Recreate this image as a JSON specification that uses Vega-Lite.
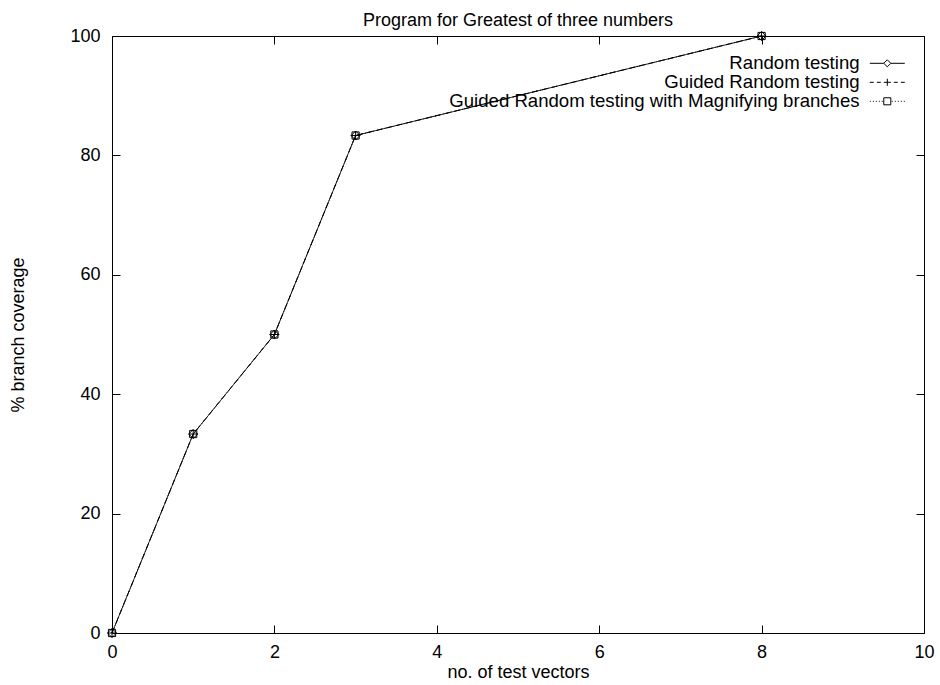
{
  "$schema": "https://vega.github.io/schema/vega-lite/v6.json",
  "width": 812,
  "height": 597,
  "autosize": {"type": "none"},
  "padding": {"left": 112, "top": 36, "right": 16, "bottom": 52},
  "background": "white",
  "title": {
    "text": "Program for Greatest of three numbers",
    "fontSize": 18,
    "fontWeight": "normal",
    "font": "Liberation Sans",
    "color": "black",
    "anchor": "middle",
    "offset": -3
  },
  "config": {
    "view": {"stroke": null},
    "font": "Liberation Sans",
    "axis": {
      "grid": false,
      "domainColor": "black",
      "domainWidth": 1,
      "tickColor": "black",
      "tickWidth": 1,
      "tickSize": -8,
      "labelColor": "black",
      "labelFontSize": 18,
      "labelFont": "Liberation Sans",
      "labelFlush": false,
      "labelOverlap": false,
      "titleColor": "black",
      "titleFontSize": 18,
      "titleFont": "Liberation Sans",
      "titleFontWeight": "normal"
    }
  },
  "data": {
    "values": [
      {"series": "Guided Random testing with Magnifying branches", "x": 0, "y": 0},
      {"series": "Guided Random testing with Magnifying branches", "x": 1, "y": 33.33},
      {"series": "Guided Random testing with Magnifying branches", "x": 2, "y": 50},
      {"series": "Guided Random testing with Magnifying branches", "x": 3, "y": 83.33},
      {"series": "Guided Random testing with Magnifying branches", "x": 8, "y": 100},
      {"series": "Guided Random testing", "x": 0, "y": 0},
      {"series": "Guided Random testing", "x": 1, "y": 33.33},
      {"series": "Guided Random testing", "x": 2, "y": 50},
      {"series": "Guided Random testing", "x": 3, "y": 83.33},
      {"series": "Guided Random testing", "x": 8, "y": 100},
      {"series": "Random testing", "x": 0, "y": 0},
      {"series": "Random testing", "x": 1, "y": 33.33},
      {"series": "Random testing", "x": 2, "y": 50},
      {"series": "Random testing", "x": 3, "y": 83.33},
      {"series": "Random testing", "x": 8, "y": 100}
    ]
  },
  "layer": [
    {
      "mark": {"type": "line", "color": "black", "strokeWidth": 1},
      "encoding": {
        "x": {
          "field": "x", "type": "quantitative",
          "scale": {"domain": [0, 10], "nice": false},
          "axis": {"orient": "bottom", "values": [0, 2, 4, 6, 8, 10], "title": "no. of test vectors", "labelPadding": 18, "titlePadding": 2}
        },
        "y": {
          "field": "y", "type": "quantitative",
          "scale": {"domain": [0, 100], "nice": false},
          "axis": {"orient": "left", "values": [0, 20, 40, 60, 80, 100], "title": "% branch coverage", "labelPadding": 20, "titlePadding": 42}
        },
        "strokeDash": {
          "field": "series", "type": "nominal",
          "scale": {"domain": ["Random testing", "Guided Random testing", "Guided Random testing with Magnifying branches"], "range": [[1, 0], [6, 4], [1, 3]]},
          "legend": null
        }
      }
    },
    {
      "mark": {"type": "point", "filled": false, "stroke": "black", "strokeWidth": 1, "size": 81, "opacity": 1},
      "encoding": {
        "x": {
          "field": "x", "type": "quantitative",
          "axis": {"orient": "top", "values": [0, 2, 4, 6, 8, 10], "labels": false, "title": null, "domain": true}
        },
        "y": {
          "field": "y", "type": "quantitative",
          "axis": {"orient": "right", "values": [0, 20, 40, 60, 80, 100], "labels": false, "title": null, "domain": true}
        },
        "shape": {
          "field": "series", "type": "nominal",
          "scale": {"domain": ["Random testing", "Guided Random testing", "Guided Random testing with Magnifying branches"], "range": ["M0,-1L1,0L0,1L-1,0Z", "M-1,0H1M0,-1V1", "M-0.8,-0.8H0.8V0.8H-0.8Z"]},
          "legend": null
        }
      }
    },
    {
      "mark": {"type": "point", "filled": false, "stroke": "black", "strokeWidth": 1, "opacity": 0},
      "encoding": {
        "x": {"field": "x", "type": "quantitative", "axis": null},
        "y": {"field": "y", "type": "quantitative", "axis": null},
        "shape": {
          "field": "series", "type": "nominal",
          "scale": {"domain": ["Random testing", "Guided Random testing", "Guided Random testing with Magnifying branches"], "range": [
            "M-2.33,0H-0.47M0.47,0H2.33M0,-0.47L0.47,0L0,0.47L-0.47,0Z",
            "M-2.33,0H-1.8M-1.4,0H-0.87M-0.47,0H0.47M0.87,0H1.4M1.8,0H2.33M0,-0.47V0.47",
            "M-2.33,0H-2.2M-1.93,0H-1.8M-1.53,0H-1.4M-1.13,0H-1M-0.73,0H-0.6M-0.47,-0.47H0.47V0.47H-0.47ZM0.6,0H0.73M1,0H1.13M1.4,0H1.53M1.8,0H1.93M2.2,0H2.33"
          ]},
          "legend": {
            "title": null,
            "orient": "none",
            "legendX": 766,
            "legendY": 18,
            "padding": 0,
            "labelFontSize": 18.6,
            "labelFont": "Liberation Sans",
            "labelColor": "black",
            "labelAlign": "right",
            "labelOffset": -37,
            "labelLimit": 0,
            "symbolSize": 225,
            "symbolStrokeColor": "black",
            "symbolStrokeWidth": 1,
            "symbolFillColor": "transparent",
            "symbolOpacity": 1,
            "rowPadding": 0,
            "encode": {"symbols": {"update": {"opacity": {"value": 1}}}}
          }
        }
      }
    }
  ],
  "resolve": {
    "scale": {"shape": "independent"},
    "axis": {"x": "independent", "y": "independent"}
  }
}
